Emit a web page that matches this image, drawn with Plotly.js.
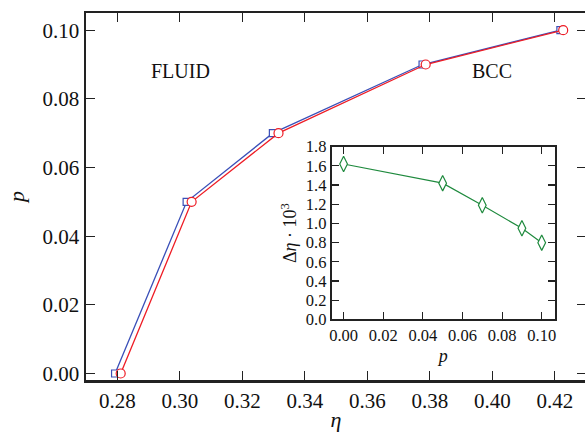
<!DOCTYPE html>
<html>
<head>
<meta charset="utf-8">
<script src="https://cdn.plot.ly/plotly-3.0.1.min.js"></script>
<style>html,body{margin:0;padding:0;overflow:hidden;background:#fff;}#chart{width:590px;height:432px;}</style>
</head>
<body>
<div id="chart"></div>
<script>
// Main plot data
const etaFluid = [0.2793, 0.3022, 0.3298, 0.3777, 0.4218];
const pFluid   = [0.00, 0.05, 0.07, 0.09, 0.10];
const etaBcc   = [0.2811, 0.3038, 0.3316, 0.3787, 0.4227];
const pBcc     = [0.00, 0.05, 0.07, 0.09, 0.10];
// Inset data
const pInset   = [0.00, 0.05, 0.07, 0.09, 0.10];
const dEta     = [1.62, 1.42, 1.19, 0.95, 0.80];

const mainXTicks = [0.28, 0.30, 0.32, 0.34, 0.36, 0.38, 0.40, 0.42];
const mainYTicks = [0.00, 0.02, 0.04, 0.06, 0.08, 0.10];
const insetXTicks = [0.00, 0.02, 0.04, 0.06, 0.08, 0.10];
const insetYTicks = [0.0, 0.2, 0.4, 0.6, 0.8, 1.0, 1.2, 1.4, 1.6, 1.8];

const serif = "'Liberation Serif', 'Times New Roman', Times, serif";

const traces = [
  {x: etaFluid, y: pFluid, mode: 'lines+markers', xaxis: 'x', yaxis: 'y',
   line: {color: '#3a4fb8', width: 1.3},
   marker: {symbol: 'square', size: 7, color: 'white', line: {color: '#3a4fb8', width: 1.2}}},
  {x: etaBcc, y: pBcc, mode: 'lines+markers', xaxis: 'x', yaxis: 'y',
   line: {color: '#ee1c25', width: 1.3},
   marker: {symbol: 'circle', size: 9, color: 'white', line: {color: '#ee1c25', width: 1.2}}},
  {x: pInset, y: dEta, mode: 'lines+markers', xaxis: 'x2', yaxis: 'y2',
   line: {color: '#1f8a3e', width: 1.2},
   marker: {symbol: 'diamond-tall', size: 11, color: 'white', line: {color: '#1f8a3e', width: 1.2}}}
];

const axCommon = {showgrid: false, zeroline: false, showline: true, linecolor: '#222', mirror: 'ticks',
  ticks: 'inside', tickcolor: '#222', tickformat: '.2f'};

const layout = {
  width: 590, height: 432,
  margin: {l: 86, r: 4, t: 13, b: 52},
  paper_bgcolor: 'white', plot_bgcolor: 'white',
  showlegend: false,
  font: {family: serif, color: '#111'},
  xaxis: Object.assign({}, axCommon, {
    range: [0.27, 0.43], tickvals: mainXTicks, linewidth: 2.5, ticklen: 9, tickwidth: 1.3,
    tickfont: {size: 21, family: serif},
    title: {text: '<i>η</i>', font: {size: 22, family: serif}, standoff: 3}
  }),
  yaxis: Object.assign({}, axCommon, {
    range: [-0.0019, 0.105], tickvals: mainYTicks, linewidth: 2.5, ticklen: 9, tickwidth: 1.3,
    tickfont: {size: 21, family: serif},
    title: {text: '<i>p</i>', font: {size: 22, family: serif}, standoff: 12}
  }),
  xaxis2: Object.assign({}, axCommon, {
    domain: [0.4914, 0.938], anchor: 'y2', range: [-0.006, 0.1067], tickvals: insetXTicks,
    linewidth: 2, ticklen: 7, tickwidth: 1.2,
    tickfont: {size: 16.5, family: serif},
    title: {text: '<i>p</i>', font: {size: 18, family: serif}, standoff: 5}
  }),
  yaxis2: Object.assign({}, axCommon, {
    domain: [0.165, 0.6357], anchor: 'x2', range: [0, 1.8], tickvals: insetYTicks, tickformat: '.1f',
    linewidth: 2, ticklen: 7, tickwidth: 1.2,
    tickfont: {size: 16.5, family: serif},
    title: {text: 'Δ<i>η</i> · 10<sup>3</sup>', font: {size: 18, family: serif}, standoff: 4}
  }),
  annotations: [
    {x: 0.3001, y: 0.088, xref: 'x', yref: 'y', text: 'FLUID', showarrow: false,
     font: {size: 20, family: serif, color: '#111'}},
    {x: 0.3998, y: 0.088, xref: 'x', yref: 'y', text: 'BCC', showarrow: false,
     font: {size: 20, family: serif, color: '#111'}}
  ]
};

Plotly.newPlot('chart', traces, layout, {displayModeBar: false, staticPlot: true});
</script>
</body>
</html>
